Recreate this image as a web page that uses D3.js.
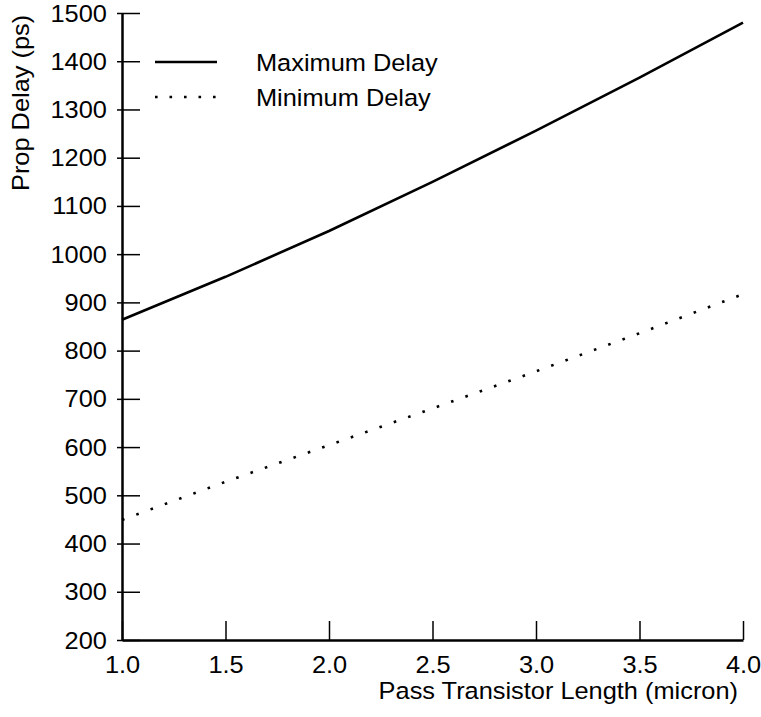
<!DOCTYPE html>
<html>
<head>
<meta charset="utf-8">
<script src="https://cdn.jsdelivr.net/npm/d3@7"></script>
<style>
  body { margin: 0; background: #fff; }
  svg { display: block; }
  text { font-family: "Liberation Sans", Arial, Helvetica, sans-serif; fill: #000; }
</style>
</head>
<body>
<div id="chart"></div>
<script>
// data
const lengths = [1.0, 1.5, 2.0, 2.5, 3.0, 3.5, 4.0];
const maxDelay = [864, 953, 1048, 1150, 1256, 1366, 1480];
const minDelay = [449, 528, 604, 680, 757, 836, 917];
const xTicks = [1.0, 1.5, 2.0, 2.5, 3.0, 3.5, 4.0];
const yTicks = [200, 300, 400, 500, 600, 700, 800, 900, 1000, 1100, 1200, 1300, 1400, 1500];
const seriesNames = ['Maximum Delay', 'Minimum Delay'];

const width = 761, height = 717;
const fontSize = 23.5;
const stretch = 1.08; // the reference type is a bit wider than Arial

const svg = d3.select('#chart').append('svg')
    .attr('width', width)
    .attr('height', height);

const x = d3.scaleLinear().domain([1.0, 4.0]).range([122, 743]);
const y = d3.scaleLinear().domain([200, 1500]).range([640, 13]);

// y axis: ticks cross the axis line
const yAxis = svg.append('g')
    .attr('transform', `translate(${x(1.0)},0)`)
    .call(d3.axisLeft(y).tickValues(yTicks).tickSizeOuter(0).tickFormat(d3.format('d')));
yAxis.select('.domain').attr('stroke-width', 2.5);
yAxis.selectAll('.tick line').attr('x1', -5).attr('x2', 18).attr('stroke-width', 1.5);
yAxis.selectAll('.tick text')
    .attr('x', -14)
    .attr('dy', '0.34em')
    .attr('font-size', fontSize)
    .attr('transform', `scale(${stretch},1)`);

// x axis: ticks point up into the plot
const xAxis = svg.append('g')
    .attr('transform', `translate(0,${y(200)})`)
    .call(d3.axisBottom(x).tickValues(xTicks).tickSize(-19).tickSizeOuter(0)
        .tickPadding(16).tickFormat(d3.format('.1f')));
xAxis.select('.domain').attr('stroke-width', 2.5);
xAxis.selectAll('.tick line').attr('stroke-width', 1.5);
xAxis.selectAll('.tick text')
    .attr('font-size', fontSize)
    .attr('transform', `scale(${stretch},1)`);
svg.selectAll('.tick text').attr('fill', '#000').attr('font-family', null);

// axis titles
svg.append('text')
    .attr('transform', `translate(29,191) rotate(-90) scale(${stretch},1)`)
    .attr('font-size', fontSize)
    .text('Prop Delay (ps)');

svg.append('text')
    .attr('transform', `translate(738,699) scale(${stretch},1)`)
    .attr('text-anchor', 'end')
    .attr('font-size', fontSize)
    .text('Pass Transistor Length (micron)');

// lines
const line = d3.line()
    .x(d => x(d[0]))
    .y(d => y(d[1]));

svg.append('path')
    .datum(d3.zip(lengths, maxDelay))
    .attr('fill', 'none')
    .attr('stroke', '#000')
    .attr('stroke-width', 2.6)
    .attr('d', line);

svg.append('path')
    .datum(d3.zip(lengths, minDelay))
    .attr('fill', 'none')
    .attr('stroke', '#000')
    .attr('stroke-width', 2.6)
    .attr('stroke-dasharray', '2.6 12.6')
    .attr('d', line);

// legend
const legend = svg.append('g');
const legendRows = [
    { name: seriesNames[0], y: 62, dash: null },
    { name: seriesNames[1], y: 97, dash: '2.6 11.9' }
];
legendRows.forEach(r => {
    legend.append('line')
        .attr('x1', 155).attr('x2', 217)
        .attr('y1', r.y).attr('y2', r.y)
        .attr('stroke', '#000')
        .attr('stroke-width', 2.6)
        .attr('stroke-dasharray', r.dash);
    legend.append('text')
        .attr('transform', `translate(256,${r.y + 8.5}) scale(${stretch},1)`)
        .attr('font-size', fontSize)
        .text(r.name);
});
</script>
</body>
</html>
